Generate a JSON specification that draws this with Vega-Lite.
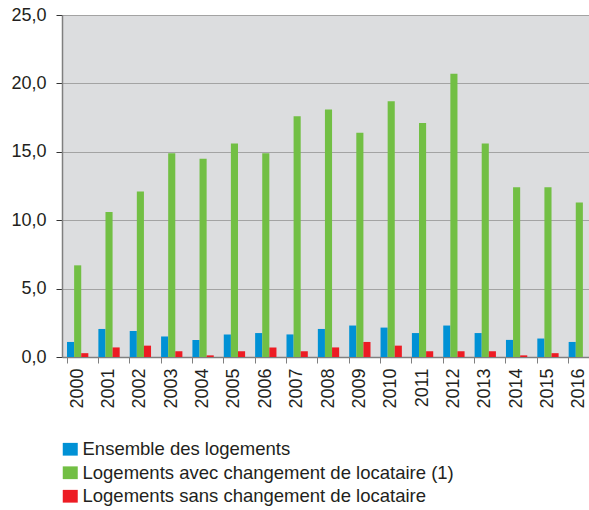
{
  "$schema": "https://vega.github.io/schema/vega-lite/v6.json",
  "autosize": {"type": "none"},
  "padding": {"left": 62, "top": 15, "right": 0, "bottom": 153},
  "width": 527,
  "height": 342,
  "background": "#ffffff",
  "config": {
    "view": {"fill": "#dcdddf", "stroke": null},
    "font": "Liberation Sans",
    "axis": {"labelFont": "Liberation Sans", "labelColor": "#231f20", "labelFontSize": 18}
  },
  "data": {
    "values": [
      {"annee": "2000", "serie": "Ensemble des logements", "valeur": 1.1},
      {"annee": "2001", "serie": "Ensemble des logements", "valeur": 2.05},
      {"annee": "2002", "serie": "Ensemble des logements", "valeur": 1.9},
      {"annee": "2003", "serie": "Ensemble des logements", "valeur": 1.5},
      {"annee": "2004", "serie": "Ensemble des logements", "valeur": 1.25},
      {"annee": "2005", "serie": "Ensemble des logements", "valeur": 1.65},
      {"annee": "2006", "serie": "Ensemble des logements", "valeur": 1.75},
      {"annee": "2007", "serie": "Ensemble des logements", "valeur": 1.65},
      {"annee": "2008", "serie": "Ensemble des logements", "valeur": 2.05},
      {"annee": "2009", "serie": "Ensemble des logements", "valeur": 2.3},
      {"annee": "2010", "serie": "Ensemble des logements", "valeur": 2.15},
      {"annee": "2011", "serie": "Ensemble des logements", "valeur": 1.75},
      {"annee": "2012", "serie": "Ensemble des logements", "valeur": 2.3},
      {"annee": "2013", "serie": "Ensemble des logements", "valeur": 1.75},
      {"annee": "2014", "serie": "Ensemble des logements", "valeur": 1.25},
      {"annee": "2015", "serie": "Ensemble des logements", "valeur": 1.35},
      {"annee": "2016", "serie": "Ensemble des logements", "valeur": 1.1},
      {"annee": "2000", "serie": "Logements avec changement de locataire (1)", "valeur": 6.7},
      {"annee": "2001", "serie": "Logements avec changement de locataire (1)", "valeur": 10.6},
      {"annee": "2002", "serie": "Logements avec changement de locataire (1)", "valeur": 12.1},
      {"annee": "2003", "serie": "Logements avec changement de locataire (1)", "valeur": 14.9},
      {"annee": "2004", "serie": "Logements avec changement de locataire (1)", "valeur": 14.5},
      {"annee": "2005", "serie": "Logements avec changement de locataire (1)", "valeur": 15.6},
      {"annee": "2006", "serie": "Logements avec changement de locataire (1)", "valeur": 14.9},
      {"annee": "2007", "serie": "Logements avec changement de locataire (1)", "valeur": 17.6},
      {"annee": "2008", "serie": "Logements avec changement de locataire (1)", "valeur": 18.1},
      {"annee": "2009", "serie": "Logements avec changement de locataire (1)", "valeur": 16.4},
      {"annee": "2010", "serie": "Logements avec changement de locataire (1)", "valeur": 18.7},
      {"annee": "2011", "serie": "Logements avec changement de locataire (1)", "valeur": 17.1},
      {"annee": "2012", "serie": "Logements avec changement de locataire (1)", "valeur": 20.7},
      {"annee": "2013", "serie": "Logements avec changement de locataire (1)", "valeur": 15.6},
      {"annee": "2014", "serie": "Logements avec changement de locataire (1)", "valeur": 12.4},
      {"annee": "2015", "serie": "Logements avec changement de locataire (1)", "valeur": 12.4},
      {"annee": "2016", "serie": "Logements avec changement de locataire (1)", "valeur": 11.3},
      {"annee": "2000", "serie": "Logements sans changement de locataire", "valeur": 0.28},
      {"annee": "2001", "serie": "Logements sans changement de locataire", "valeur": 0.7},
      {"annee": "2002", "serie": "Logements sans changement de locataire", "valeur": 0.83},
      {"annee": "2003", "serie": "Logements sans changement de locataire", "valeur": 0.42},
      {"annee": "2004", "serie": "Logements sans changement de locataire", "valeur": 0.12},
      {"annee": "2005", "serie": "Logements sans changement de locataire", "valeur": 0.42},
      {"annee": "2006", "serie": "Logements sans changement de locataire", "valeur": 0.7},
      {"annee": "2007", "serie": "Logements sans changement de locataire", "valeur": 0.42},
      {"annee": "2008", "serie": "Logements sans changement de locataire", "valeur": 0.7},
      {"annee": "2009", "serie": "Logements sans changement de locataire", "valeur": 1.1},
      {"annee": "2010", "serie": "Logements sans changement de locataire", "valeur": 0.83},
      {"annee": "2011", "serie": "Logements sans changement de locataire", "valeur": 0.42},
      {"annee": "2012", "serie": "Logements sans changement de locataire", "valeur": 0.42},
      {"annee": "2013", "serie": "Logements sans changement de locataire", "valeur": 0.42},
      {"annee": "2014", "serie": "Logements sans changement de locataire", "valeur": 0.12},
      {"annee": "2015", "serie": "Logements sans changement de locataire", "valeur": 0.28}
    ]
  },
  "mark": {"type": "bar"},
  "encoding": {
    "x": {
      "field": "annee",
      "type": "nominal",
      "scale": {"range": [0, 533], "paddingInner": 0.32, "paddingOuter": 0.16},
      "axis": {
        "title": null,
        "labelAngle": -90,
        "bandPosition": 0,
        "tickSize": 6,
        "tickColor": "#7f7f7f",
        "domainColor": "#7f7f7f",
        "domainWidth": 1.5,
        "labelPadding": 5,
        "grid": false
      }
    },
    "xOffset": {
      "field": "serie",
      "type": "nominal",
      "sort": ["Ensemble des logements", "Logements avec changement de locataire (1)", "Logements sans changement de locataire"],
      "scale": {"paddingInner": 0, "paddingOuter": 0}
    },
    "y": {
      "field": "valeur",
      "type": "quantitative",
      "scale": {"domain": [0, 25], "nice": false},
      "axis": {
        "title": null,
        "values": [0, 5, 10, 15, 20, 25],
        "labelExpr": "replace(format(datum.value, '.1f'), '.', ',')",
        "gridColor": "#a3a3a3",
        "gridWidth": 1,
        "tickSize": 6,
        "tickColor": "#333333",
        "domainColor": "#7f7f7f",
        "domainWidth": 1.5,
        "labelPadding": 10
      }
    },
    "color": {
      "field": "serie",
      "type": "nominal",
      "sort": ["Ensemble des logements", "Logements avec changement de locataire (1)", "Logements sans changement de locataire"],
      "scale": {
        "domain": ["Ensemble des logements", "Logements avec changement de locataire (1)", "Logements sans changement de locataire"],
        "range": ["#0091d5", "#72bf44", "#ed1c24"]
      },
      "legend": {
        "title": null,
        "orient": "none",
        "legendX": -1,
        "legendY": 425,
        "direction": "vertical",
        "symbolType": "M-1,-0.85H1V0.85H-1Z",
        "symbolSize": 225,
        "symbolOpacity": 1,
        "symbolStrokeWidth": 0,
        "labelFont": "Liberation Sans",
        "labelFontSize": 18.5,
        "labelColor": "#231f20",
        "labelOffset": 3,
        "rowPadding": 4.5,
        "labelLimit": 500
      }
    }
  }
}
